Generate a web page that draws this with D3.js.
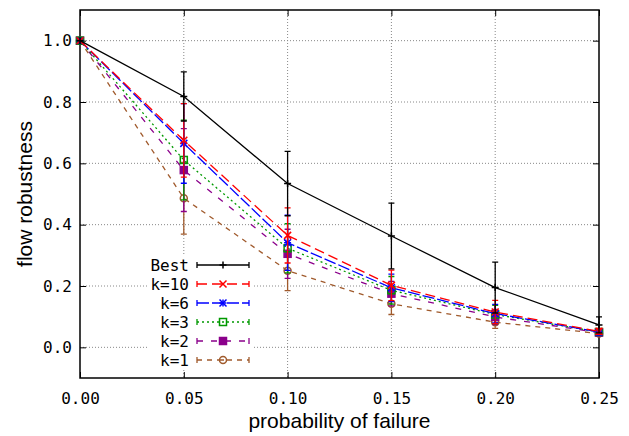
<!DOCTYPE html>
<html>
<head>
<meta charset="utf-8">
<script src="https://cdn.jsdelivr.net/npm/d3@7"></script>
<style>
  body { margin: 0; background: #fff; }
  .tick text { font-family: "DejaVu Sans Mono", monospace; font-size: 16px; fill: #000; }
</style>
</head>
<body>
<div class="chart"></div>
<script>
// values
const probs = [0, 0.05, 0.10, 0.15, 0.20, 0.25];
const best = [1.0, 0.818, 0.534, 0.363, 0.195, 0.073];
const bestErr = [0, 0.08, 0.105, 0.107, 0.083, 0.026];
const k10 = [1.0, 0.675, 0.365, 0.202, 0.115, 0.052];
const k10Err = [0, 0.12, 0.09, 0.05, 0.038, 0.01];
const k6 = [1.0, 0.665, 0.341, 0.194, 0.11, 0.05];
const k6Err = [0, 0.13, 0.09, 0.045, 0.03, 0.01];
const k3 = [1.0, 0.611, 0.323, 0.186, 0.107, 0.05];
const k3Err = [0, 0.13, 0.08, 0.045, 0.03, 0.01];
const k2 = [1.0, 0.578, 0.305, 0.175, 0.099, 0.048];
const k2Err = [0, 0.135, 0.08, 0.04, 0.025, 0.01];
const k1 = [1.0, 0.486, 0.25, 0.142, 0.082, 0.045];
const k1Err = [0, 0.117, 0.065, 0.035, 0.02, 0.008];
const xTicks = [0, 0.05, 0.10, 0.15, 0.20, 0.25];
const yTicks = [0, 0.2, 0.4, 0.6, 0.8, 1.0];

const series = [
  { name: 'Best', vals: best, err: bestErr, color: '#000000', dash: null, marker: 'plus' },
  { name: 'k=10', vals: k10, err: k10Err, color: '#ff0000', dash: '10,5', marker: 'cross' },
  { name: 'k=6', vals: k6, err: k6Err, color: '#0000ff', dash: '12,3', marker: 'star' },
  { name: 'k=3', vals: k3, err: k3Err, color: '#009900', dash: '2,3', marker: 'square' },
  { name: 'k=2', vals: k2, err: k2Err, color: '#8b008b', dash: '6,8', marker: 'fsquare' },
  { name: 'k=1', vals: k1, err: k1Err, color: '#a05a2c', dash: '5,5', marker: 'circle' }
];

const margin = { top: 10, right: 30, bottom: 58, left: 80 };
const W = 629, H = 436;
const width = W - margin.left - margin.right;
const height = H - margin.top - margin.bottom;

const svg = d3.select('.chart').append('svg')
    .attr('width', W).attr('height', H)
    .append('g')
    .attr('transform', 'translate(' + margin.left + ',' + margin.top + ')');

const x = d3.scaleLinear().domain([0, 0.25]).range([0, width]);
const y = d3.scaleLinear().domain([-0.1, 1.1]).range([height, 0]);

// grid
const grid = svg.append('g').attr('class', 'grid');
grid.selectAll('.gx').data(xTicks.slice(1, -1)).join('line')
    .attr('x1', d => x(d)).attr('x2', d => x(d))
    .attr('y1', 0).attr('y2', height)
    .attr('stroke', '#888').attr('stroke-width', 1).attr('stroke-dasharray', '1,2');
grid.selectAll('.gy').data(yTicks).join('line')
    .attr('y1', d => y(d)).attr('y2', d => y(d))
    .attr('x1', 0).attr('x2', width)
    .attr('stroke', '#888').attr('stroke-width', 1).attr('stroke-dasharray', '1,2');

// axes, ticks inward and mirrored
svg.append('g')
    .attr('transform', 'translate(0,' + height + ')')
    .call(d3.axisBottom(x).tickValues(xTicks).tickFormat(d3.format('.2f')).tickSizeInner(-6).tickSizeOuter(0).tickPadding(15))
    .call(g => g.select('.domain').remove());
svg.append('g')
    .call(d3.axisTop(x).tickValues(xTicks).tickFormat('').tickSizeInner(-6).tickSizeOuter(0))
    .call(g => g.select('.domain').remove());
svg.append('g')
    .call(d3.axisLeft(y).tickValues(yTicks).tickFormat(d3.format('.1f')).tickSizeInner(-6).tickSizeOuter(0).tickPadding(8))
    .call(g => g.select('.domain').remove());
svg.append('g')
    .attr('transform', 'translate(' + width + ',0)')
    .call(d3.axisRight(y).tickValues(yTicks).tickFormat('').tickSizeInner(-6).tickSizeOuter(0))
    .call(g => g.select('.domain').remove());

svg.append('rect')
    .attr('width', width).attr('height', height)
    .attr('fill', 'none').attr('stroke', '#000').attr('stroke-width', 1.5);

// markers
function drawMarker(g, kind, cx, cy, color) {
  const s = 3.5;
  if (kind === 'plus' || kind === 'star') {
    g.append('path').attr('d', `M${cx - s},${cy}H${cx + s}M${cx},${cy - s}V${cy + s}`)
      .attr('stroke', color).attr('stroke-width', 1.5);
  }
  if (kind === 'cross' || kind === 'star') {
    g.append('path').attr('d', `M${cx - s},${cy - s}L${cx + s},${cy + s}M${cx - s},${cy + s}L${cx + s},${cy - s}`)
      .attr('stroke', color).attr('stroke-width', 1.5);
  }
  if (kind === 'square' || kind === 'fsquare') {
    g.append('rect').attr('x', cx - s).attr('y', cy - s).attr('width', 2 * s).attr('height', 2 * s)
      .attr('fill', kind === 'fsquare' ? color : 'none').attr('stroke', color).attr('stroke-width', 1.5);
  }
  if (kind === 'circle') {
    g.append('circle').attr('cx', cx).attr('cy', cy).attr('r', s)
      .attr('fill', 'none').attr('stroke', color).attr('stroke-width', 1.5);
    g.append('circle').attr('cx', cx).attr('cy', cy).attr('r', 1).attr('fill', color);
  }
}

const line = d3.line().x(d => x(d[0])).y(d => y(d[1]));
const plot = svg.append('g');

series.slice().reverse().forEach(s => {
  const g = plot.append('g');
  const pts = probs.map((p, i) => [p, s.vals[i], s.err[i]]);
  g.append('path')
      .attr('d', line(pts))
      .attr('fill', 'none')
      .attr('stroke', s.color)
      .attr('stroke-width', 1.3)
      .attr('stroke-dasharray', s.dash);
  pts.forEach(d => {
    if (d[2] > 0) {
      const px = x(d[0]), y0 = y(d[1] - d[2]), y1 = y(d[1] + d[2]);
      g.append('path')
          .attr('d', `M${px},${y0}V${y1}M${px - 3},${y0}H${px + 3}M${px - 3},${y1}H${px + 3}`)
          .attr('stroke', s.color).attr('stroke-width', 1.3).attr('fill', 'none');
    }
    drawMarker(g, s.marker, x(d[0]), y(d[1]), s.color);
  });
});

// legend
const legend = svg.append('g').attr('transform', 'translate(' + (189 - margin.left) + ',' + (265 - margin.top) + ')');
series.forEach((s, i) => {
  const ly = i * 19;
  const lg = legend.append('g');
  lg.append('rect').attr('x', -42).attr('y', ly - 9).attr('width', 106).attr('height', 19).attr('fill', '#fff');
  lg.append('text')
      .attr('x', 0).attr('y', ly).attr('dy', '0.35em')
      .attr('text-anchor', 'end')
      .style('font-family', '"DejaVu Sans Mono", monospace')
      .style('font-size', '16px')
      .text(s.name);
  lg.append('path')
      .attr('d', `M8,${ly}H60`)
      .attr('stroke', s.color).attr('stroke-width', 1.3).attr('stroke-dasharray', s.dash);
  lg.append('path')
      .attr('d', `M8,${ly - 3}V${ly + 3}M60,${ly - 3}V${ly + 3}`)
      .attr('stroke', s.color).attr('stroke-width', 1.3);
  drawMarker(lg, s.marker, 34, ly, s.color);
});

// axis labels
svg.append('text')
    .attr('x', width / 2).attr('y', 428 - margin.top)
    .attr('text-anchor', 'middle')
    .style('font-family', '"Liberation Sans", Arial, sans-serif')
    .style('font-size', '21px')
    .text('probability of failure');
svg.append('text')
    .attr('transform', 'rotate(-90)')
    .attr('x', -(y(0.5))).attr('y', 32 - margin.left)
    .attr('text-anchor', 'middle')
    .style('font-family', '"Liberation Sans", Arial, sans-serif')
    .style('font-size', '21px')
    .text('flow robustness');
</script>
</body>
</html>
